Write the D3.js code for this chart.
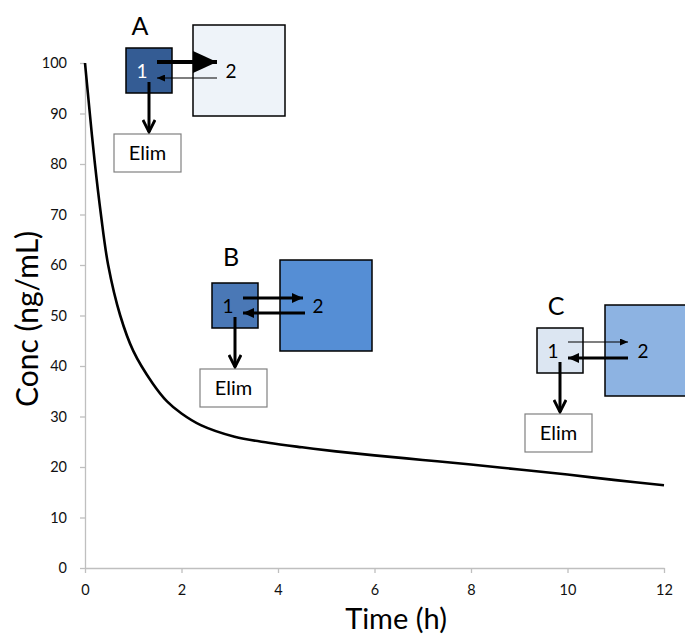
<!DOCTYPE html>
<html><head><meta charset="utf-8">
<script src="https://cdn.jsdelivr.net/npm/d3@7"></script>
<style>
body{margin:0;background:#fff;}
svg{display:block;font-family:Lato,"Open Sans",sans-serif;}
</style></head>
<body><svg id="c" width="685" height="637"></svg>
<script>
// data
const timeH = [0, 0.1, 0.2, 0.33, 0.48, 0.73, 1.0, 1.4, 1.7, 2.0, 2.4, 3.1, 3.8, 4.5, 5.2, 6, 7, 8, 9, 10, 11, 12];
const concNgMl = [100, 90, 80.5, 70, 60, 50, 43, 36.6, 33, 30.6, 28.3, 26, 24.8, 23.9, 23.1, 22.3, 21.4, 20.5, 19.5, 18.5, 17.4, 16.4];
const xTicks = [0, 2, 4, 6, 8, 10, 12];
const yTicks = [0, 10, 20, 30, 40, 50, 60, 70, 80, 90, 100];
const diagramLabels = ["A", "B", "C"];

const svg = d3.select("#c");
const x = d3.scaleLinear().domain([0, 12]).range([85, 664]);
const y = d3.scaleLinear().domain([0, 100]).range([568, 63]);
const axisCol = "#bfbfbf";

// axes
const gy = svg.append("g").attr("transform", "translate(85,0)")
  .call(d3.axisLeft(y).tickValues(yTicks).tickSize(5).tickPadding(13).tickSizeOuter(0));
const gx = svg.append("g").attr("transform", "translate(0,568)")
  .call(d3.axisBottom(x).tickValues(xTicks).tickSize(5).tickPadding(12).tickSizeOuter(0));
[gx, gy].forEach(g => {
  g.select(".domain").attr("stroke", axisCol).attr("stroke-width", 1.3);
  g.selectAll(".tick line").attr("stroke", axisCol).attr("stroke-width", 1.3);
  g.selectAll(".tick text").attr("fill", "#111").style("font-size", "14.5px").style("font-family", "Lato,'Open Sans',sans-serif");
});

svg.append("text").attr("x", 396).attr("y", 629).attr("text-anchor", "middle")
  .style("font-size", "29px").attr("fill", "#000").text("Time (h)");
svg.append("text").attr("transform", "translate(38,319) rotate(-90)").attr("text-anchor", "middle")
  .style("font-size", "30px").attr("fill", "#000").text("Conc (ng/mL)");

// curve
const pts = timeH.map((t, i) => [t, concNgMl[i]]);
svg.append("path").datum(pts)
  .attr("d", d3.line().x(d => x(d[0])).y(d => y(d[1])).curve(d3.curveCatmullRom.alpha(0.5)))
  .attr("fill", "none").attr("stroke", "#000").attr("stroke-width", 2.6);

// markers
const defs = svg.append("defs");
function triMarker(id, w, h) {
  defs.append("marker").attr("id", id).attr("viewBox", `0 0 ${w} ${h}`)
    .attr("refX", w).attr("refY", h / 2).attr("markerWidth", w).attr("markerHeight", h)
    .attr("markerUnits", "userSpaceOnUse").attr("orient", "auto")
    .append("path").attr("d", `M0,0L${w},${h/2}L0,${h}Z`).attr("fill", "#000");
}
triMarker("triBig", 24, 22);
triMarker("triMed", 11, 10);
triMarker("triSm", 8, 7);
defs.append("marker").attr("id", "openV").attr("viewBox", "0 0 16 14")
  .attr("refX", 14).attr("refY", 7).attr("markerWidth", 16).attr("markerHeight", 14)
  .attr("markerUnits", "userSpaceOnUse").attr("orient", "auto")
  .append("path").attr("d", "M2,1L14,7L2,13").attr("fill", "none").attr("stroke", "#000").attr("stroke-width", 2.8);

// diagrams (pixel layout relative to the diagram's origin)
const diagrams = [
  {label: diagramLabels[0], ox: 126, oy: 48, c1: "#345c94", c2: "#eef3f9", t1: "#fff", lx: 14, ly: -13,
   b2: [67, -23, 92, 91], fwd: {w: 4, m: "triBig", x0: 31, x1: 91, y: 14}, back: {w: 1.2, m: "triSm", x0: 91, x1: 31, y: 30}},
  {label: diagramLabels[1], ox: 212, oy: 283, c1: "#4a78b6", c2: "#558ed5", t1: "#000", lx: 19, ly: -17,
   b2: [68, -23, 92, 91], fwd: {w: 3, m: "triMed", x0: 31, x1: 91, y: 15}, back: {w: 3, m: "triMed", x0: 93, x1: 31, y: 30}},
  {label: diagramLabels[2], ox: 537, oy: 328, c1: "#dce6f2", c2: "#8db3e2", t1: "#000", lx: 19, ly: -13,
   b2: [68, -23, 92, 91], fwd: {w: 1.2, m: "triSm", x0: 31, x1: 91, y: 14}, back: {w: 3, m: "triMed", x0: 91, x1: 31, y: 30}}
];

diagrams.forEach(d => {
  const g = svg.append("g").attr("transform", `translate(${d.ox},${d.oy})`);
  g.append("rect").attr("x", d.b2[0]).attr("y", d.b2[1]).attr("width", d.b2[2]).attr("height", d.b2[3])
    .attr("fill", d.c2).attr("stroke", "#000").attr("stroke-width", 1.5);
  g.append("rect").attr("x", 0).attr("y", 0).attr("width", 46).attr("height", 45)
    .attr("fill", d.c1).attr("stroke", "#000").attr("stroke-width", 1.5);
  g.append("text").attr("x", d.lx).attr("y", d.ly).attr("text-anchor", "middle")
    .style("font-size", "25px").attr("fill", "#000").text(d.label);
  g.append("text").attr("x", 16).attr("y", 30).attr("text-anchor", "middle")
    .style("font-size", "19px").attr("fill", d.t1).text("1");
  g.append("text").attr("x", d.b2[0] + 38).attr("y", 30).attr("text-anchor", "middle")
    .style("font-size", "19px").attr("fill", "#000").text("2");
  g.append("line").attr("x1", d.fwd.x0).attr("x2", d.fwd.x1).attr("y1", d.fwd.y).attr("y2", d.fwd.y)
    .attr("stroke", "#000").attr("stroke-width", d.fwd.w).attr("marker-end", `url(#${d.fwd.m})`);
  g.append("line").attr("x1", d.back.x0).attr("x2", d.back.x1).attr("y1", d.back.y).attr("y2", d.back.y)
    .attr("stroke", "#000").attr("stroke-width", d.back.w).attr("marker-end", `url(#${d.back.m})`);
  g.append("line").attr("x1", 23).attr("x2", 23).attr("y1", 34).attr("y2", 84)
    .attr("stroke", "#000").attr("stroke-width", 3).attr("marker-end", "url(#openV)");
  g.append("rect").attr("x", -12).attr("y", 86).attr("width", 67).attr("height", 38)
    .attr("fill", "#fff").attr("stroke", "#808080").attr("stroke-width", 1.2);
  g.append("text").attr("x", 21.5).attr("y", 112).attr("text-anchor", "middle")
    .style("font-size", "20px").attr("fill", "#000").text("Elim");
});
</script></body></html>
